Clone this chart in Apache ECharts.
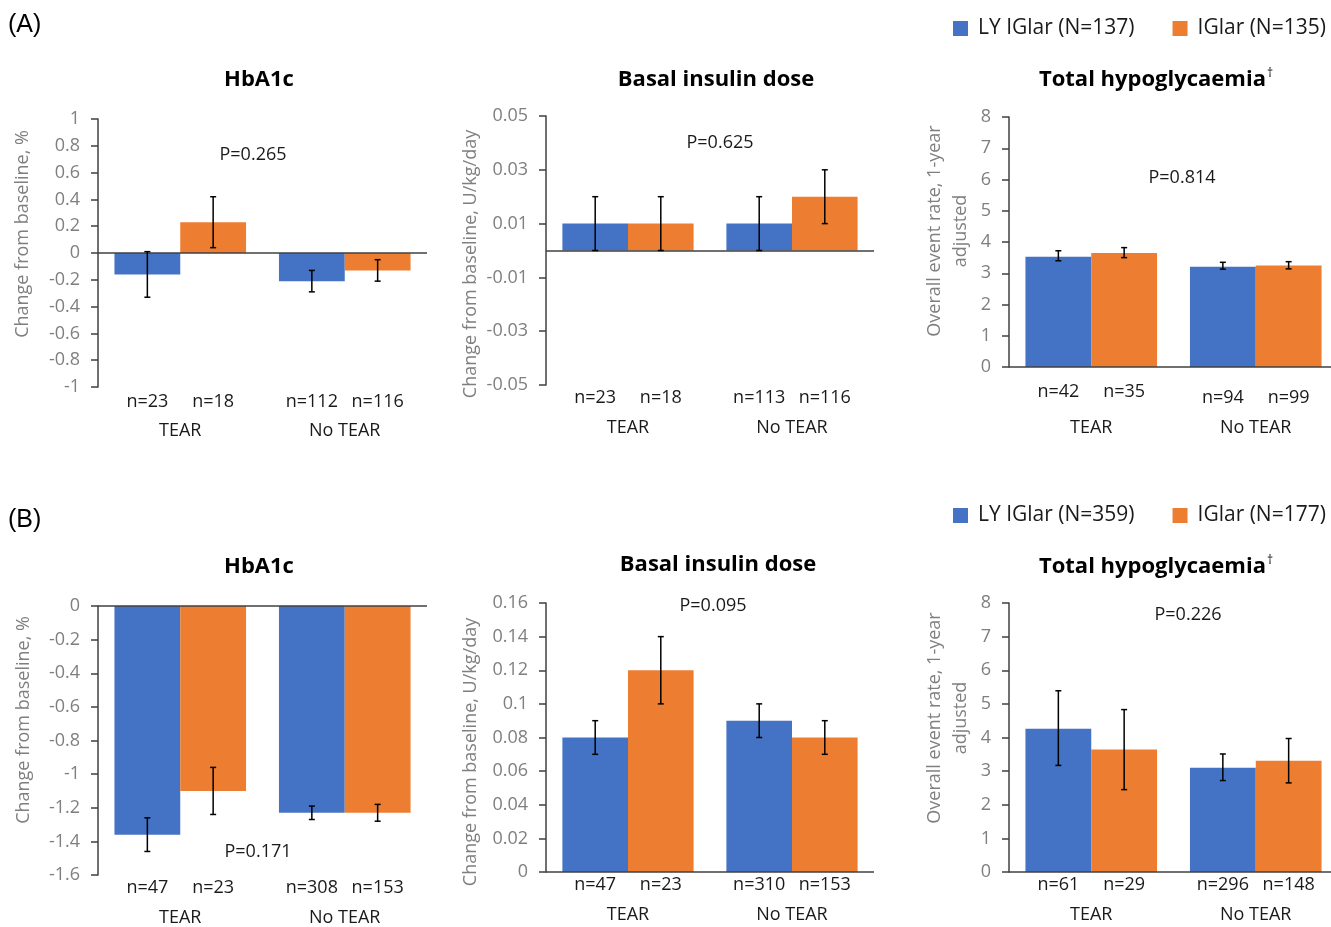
<!DOCTYPE html>
<html>
<head>
<meta charset="utf-8">
<title>LY IGlar vs IGlar by TEAR status</title>
<script src="https://cdn.jsdelivr.net/npm/echarts@6/dist/echarts.min.js"></script>
<style>
html, body { margin: 0; padding: 0; background: #fff; }
#chart { width: 1331px; height: 927px; }
</style>
</head>
<body>
<div id="chart"></div>
<script>
const categories = ['TEAR', 'No TEAR'];
const legendA = ['LY IGlar (N=137)', 'IGlar (N=135)'];
const legendB = ['LY IGlar (N=359)', 'IGlar (N=177)'];
const titles = ['HbA1c', 'Basal insulin dose', 'Total hypoglycaemia'];
const pValues = ['P=0.265', 'P=0.625', 'P=0.814', 'P=0.171', 'P=0.095', 'P=0.226'];
const yNames = ['Change from baseline, %', 'Change from baseline, U/kg/day', 'Overall event rate, 1-year\nadjusted'];
// [min, max, interval] for each panel
const yRanges = [[-1, 1, 0.2], [-0.05, 0.05, 0.02], [0, 8, 1], [-1.6, 0, 0.2], [0, 0.16, 0.02], [0, 8, 1]];

// (A) HbA1c
const aHbLy = [-0.16, -0.21];
const aHbLyErr = [[-0.33, 0.01], [-0.29, -0.13]];
const aHbLyN = [23, 112];
const aHbIg = [0.23, -0.13];
const aHbIgErr = [[0.04, 0.42], [-0.21, -0.05]];
const aHbIgN = [18, 116];

// (A) basal insulin dose
const aDoseLy = [0.01, 0.01];
const aDoseLyErr = [[0, 0.02], [0, 0.02]];
const aDoseLyN = [23, 113];
const aDoseIg = [0.01, 0.02];
const aDoseIgErr = [[0, 0.02], [0.01, 0.03]];
const aDoseIgN = [18, 116];

// (A) total hypoglycaemia
const aHypoLy = [3.53, 3.21];
const aHypoLyErr = [[3.40, 3.72], [3.13, 3.35]];
const aHypoLyN = [42, 94];
const aHypoIg = [3.65, 3.25];
const aHypoIgErr = [[3.50, 3.82], [3.14, 3.37]];
const aHypoIgN = [35, 99];

// (B) HbA1c
const bHbLy = [-1.36, -1.23];
const bHbLyErr = [[-1.46, -1.26], [-1.27, -1.19]];
const bHbLyN = [47, 308];
const bHbIg = [-1.10, -1.23];
const bHbIgErr = [[-1.24, -0.96], [-1.28, -1.18]];
const bHbIgN = [23, 153];

// (B) basal insulin dose
const bDoseLy = [0.08, 0.09];
const bDoseLyErr = [[0.07, 0.09], [0.08, 0.10]];
const bDoseLyN = [47, 310];
const bDoseIg = [0.12, 0.08];
const bDoseIgErr = [[0.10, 0.14], [0.07, 0.09]];
const bDoseIgN = [23, 153];

// (B) total hypoglycaemia
const bHypoLy = [4.26, 3.10];
const bHypoLyErr = [[3.17, 5.39], [2.72, 3.51]];
const bHypoLyN = [61, 296];
const bHypoIg = [3.64, 3.31];
const bHypoIgErr = [[2.45, 4.83], [2.65, 3.97]];
const bHypoIgN = [29, 148];

const FONT = "'Open Sans', sans-serif";
const BLUE = '#4472C4';
const ORANGE = '#ED7D31';
const AXIS = '#404040';
const GREY = '#7f7f7f';

// layout of each panel (pixels); the right column runs a little past the page edge
const layout = [
  { grid: { left: 98, top: 119, width: 329, height: 268 }, nDy: [15, 15], catGap: 44, title: [259, 80], p: [253, 155], yName: [23, 234] },
  { grid: { left: 546, top: 116, width: 328, height: 269 }, nDy: [13, 13], catGap: 43, title: [716, 80], p: [720, 143], yName: [471, 264] },
  { grid: { left: 1009, top: 117, width: 329, height: 250 }, nDy: [25, 31], catGap: 61, title: [1156, 80], p: [1182, 178], yName: [948, 231] },
  { grid: { left: 98, top: 606, width: 329, height: 269 }, nDy: [13, 13], catGap: 43, title: [259, 567], p: [258, 852], yName: [24, 720] },
  { grid: { left: 546, top: 603, width: 328, height: 269 }, nDy: [13, 13], catGap: 43, title: [718, 565], p: [713, 606], yName: [471, 752] },
  { grid: { left: 1009, top: 603, width: 329, height: 269 }, nDy: [13, 13], catGap: 43, title: [1156, 567], p: [1188, 615], yName: [948, 718] }
];

const panelData = [
  [aHbLy, aHbLyErr, aHbLyN, aHbIg, aHbIgErr, aHbIgN, legendA],
  [aDoseLy, aDoseLyErr, aDoseLyN, aDoseIg, aDoseIgErr, aDoseIgN, legendA],
  [aHypoLy, aHypoLyErr, aHypoLyN, aHypoIg, aHypoIgErr, aHypoIgN, legendA],
  [bHbLy, bHbLyErr, bHbLyN, bHbIg, bHbIgErr, bHbIgN, legendB],
  [bDoseLy, bDoseLyErr, bDoseLyN, bDoseIg, bDoseIgErr, bDoseIgN, legendB],
  [bHypoLy, bHypoLyErr, bHypoLyN, bHypoIg, bHypoIgErr, bHypoIgN, legendB]
];

// error bar + n label under the bar
function errorBar(offset, nDy, yMin) {
  return function (params, api) {
    const k = api.value(0);
    const band = api.size([1, 0])[0];
    const x = api.coord([k, 0])[0] + offset * band;
    const yLo = api.coord([k, api.value(1)])[1];
    const yHi = api.coord([k, api.value(2)])[1];
    const yBase = api.coord([k, yMin])[1];
    const st = { stroke: '#000', lineWidth: 1.5 };
    return {
      type: 'group',
      children: [
        { type: 'line', shape: { x1: x, y1: yLo, x2: x, y2: yHi }, style: st },
        { type: 'line', shape: { x1: x - 3, y1: yLo, x2: x + 3, y2: yLo }, style: st },
        { type: 'line', shape: { x1: x - 3, y1: yHi, x2: x + 3, y2: yHi }, style: st },
        { type: 'text', x: x, y: yBase + nDy[k], style: { text: 'n=' + api.value(3), align: 'center', verticalAlign: 'middle', fontSize: 18, fontFamily: FONT, fill: '#1a1a1a' } }
      ]
    };
  };
}

const grid = [], xAxis = [], yAxis = [], series = [], graphic = [];

layout.forEach(function (L, i) {
  const [ly, lyErr, lyN, ig, igErr, igN, names] = panelData[i];
  const [yMin, yMax, yInt] = yRanges[i];
  grid.push(Object.assign({ outerBoundsMode: 'none', containLabel: false }, L.grid));
  xAxis.push({
    type: 'category', gridIndex: i, data: categories,
    axisLine: { show: false, onZero: false }, axisTick: { show: false },
    axisLabel: { fontSize: 18, fontFamily: FONT, color: '#1a1a1a', margin: L.catGap, verticalAlign: 'middle' }
  });
  yAxis.push({
    type: 'value', gridIndex: i, min: yMin, max: yMax, interval: yInt,
    axisLine: { show: true, lineStyle: { color: AXIS, width: 1.5 } },
    axisTick: { show: true, length: 7, lineStyle: { color: AXIS, width: 1.5 } },
    axisLabel: { fontSize: 18, fontFamily: FONT, color: GREY, margin: 18, formatter: v => String(+v.toFixed(4)) },
    splitLine: { show: false }
  });
  series.push({
    type: 'bar', name: names[0], xAxisIndex: i, yAxisIndex: i, data: ly,
    barGap: '0%', barCategoryGap: '20%', itemStyle: { color: BLUE },
    markLine: {
      silent: true, symbol: ['none', 'none'], label: { show: false },
      lineStyle: { color: AXIS, width: 1.5, type: 'solid' },
      data: [{ yAxis: 0 }]
    }
  });
  series.push({
    type: 'bar', name: names[1], xAxisIndex: i, yAxisIndex: i, data: ig,
    barGap: '0%', barCategoryGap: '20%', itemStyle: { color: ORANGE }
  });
  series.push({
    type: 'custom', xAxisIndex: i, yAxisIndex: i, clip: false, z: 5,
    renderItem: errorBar(-0.2, L.nDy, yMin),
    encode: { x: 0, y: [1, 2] },
    data: categories.map((c, k) => [k, lyErr[k][0], lyErr[k][1], lyN[k]])
  });
  series.push({
    type: 'custom', xAxisIndex: i, yAxisIndex: i, clip: false, z: 5,
    renderItem: errorBar(0.2, L.nDy, yMin),
    encode: { x: 0, y: [1, 2] },
    data: categories.map((c, k) => [k, igErr[k][0], igErr[k][1], igN[k]])
  });

  const t = titles[i % 3];
  graphic.push({
    type: 'text', x: L.title[0], y: L.title[1],
    style: {
      text: i % 3 === 2 ? '{t|' + t + '}{s|†}' : '{t|' + t + '}',
      align: 'center', verticalAlign: 'middle',
      rich: {
        t: { fontSize: 22, fontWeight: 'bold', fontFamily: FONT, fill: '#000' },
        s: { fontSize: 12, fontFamily: FONT, fill: '#000', verticalAlign: 'top', padding: [0, 0, 12, 1] }
      }
    }
  });
  graphic.push({
    type: 'text', x: L.p[0], y: L.p[1],
    style: { text: pValues[i], align: 'center', verticalAlign: 'middle', fontSize: 18, fontFamily: FONT, fill: '#1a1a1a' }
  });
  graphic.push({
    type: 'text', x: L.yName[0], y: L.yName[1], rotation: Math.PI / 2,
    style: { text: yNames[i % 3], align: 'center', verticalAlign: 'middle', fontSize: 18, lineHeight: 26, fontFamily: FONT, fill: GREY }
  });
});

graphic.push({ type: 'text', x: 8, y: 25, style: { text: '(A)', verticalAlign: 'middle', fontSize: 25, fontFamily: "'Liberation Sans', Arial, sans-serif", fill: '#000' } });
graphic.push({ type: 'text', x: 8, y: 520, style: { text: '(B)', verticalAlign: 'middle', fontSize: 25, fontFamily: "'Liberation Sans', Arial, sans-serif", fill: '#000' } });

const legendStyle = {
  icon: 'rect', itemWidth: 15, itemHeight: 15, itemGap: 38, padding: 0,
  textStyle: { fontSize: 21, fontFamily: FONT, color: '#1a1a1a', padding: [0, 0, 0, 5] }
};

const chart = echarts.init(document.getElementById('chart'));
chart.setOption({
  animation: false,
  backgroundColor: '#fff',
  legend: [
    Object.assign({ data: legendA, left: 953, top: 18 }, legendStyle),
    Object.assign({ data: legendB, left: 953, top: 505 }, legendStyle)
  ],
  grid: grid,
  xAxis: xAxis,
  yAxis: yAxis,
  series: series,
  graphic: graphic
});
</script>
</body>
</html>
